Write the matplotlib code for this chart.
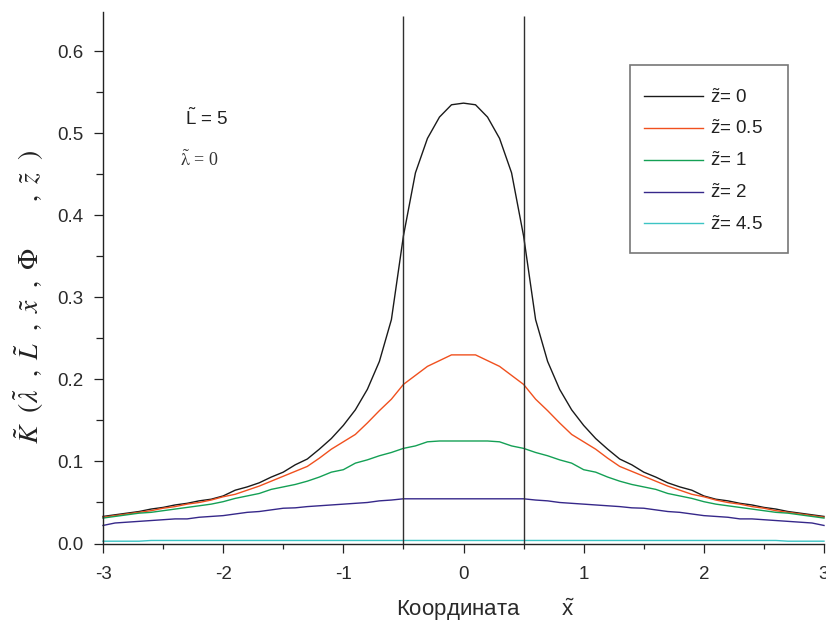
import matplotlib
matplotlib.use("Agg")
import matplotlib.pyplot as plt
from matplotlib.patches import Rectangle
from matplotlib.ticker import MultipleLocator

# ---------------- data ----------------
x_coord = [-3.0, -2.9, -2.8, -2.7, -2.6, -2.5, -2.4, -2.3, -2.2, -2.1,
           -2.0, -1.9, -1.8, -1.7, -1.6, -1.5, -1.4, -1.3, -1.2, -1.1,
           -1.0, -0.9, -0.8, -0.7, -0.6, -0.5, -0.4, -0.3, -0.2, -0.1,
           0.0,
           0.1, 0.2, 0.3, 0.4, 0.5, 0.6, 0.7, 0.8, 0.9, 1.0,
           1.1, 1.2, 1.3, 1.4, 1.5, 1.6, 1.7, 1.8, 1.9, 2.0,
           2.1, 2.2, 2.3, 2.4, 2.5, 2.6, 2.7, 2.8, 2.9, 3.0]

k_z0 = [0.033, 0.035, 0.037, 0.039, 0.042, 0.044, 0.047, 0.049, 0.052, 0.054,
        0.058, 0.065, 0.069, 0.074, 0.081, 0.087, 0.096, 0.103, 0.115, 0.128,
        0.144, 0.163, 0.188, 0.222, 0.273, 0.375, 0.452, 0.494, 0.520, 0.535,
        0.537,
        0.535, 0.520, 0.494, 0.452, 0.375, 0.273, 0.222, 0.188, 0.163, 0.144,
        0.128, 0.115, 0.103, 0.096, 0.087, 0.081, 0.074, 0.069, 0.065, 0.058,
        0.054, 0.052, 0.049, 0.047, 0.044, 0.042, 0.039, 0.037, 0.035, 0.033]

k_z05 = [0.032, 0.034, 0.036, 0.038, 0.040, 0.043, 0.045, 0.048, 0.050, 0.053,
         0.057, 0.060, 0.065, 0.070, 0.076, 0.082, 0.088, 0.094, 0.104, 0.115,
         0.124, 0.133, 0.147, 0.162, 0.176, 0.194, 0.205, 0.216, 0.223, 0.230,
         0.230,
         0.230, 0.223, 0.216, 0.205, 0.194, 0.176, 0.162, 0.147, 0.133, 0.124,
         0.115, 0.104, 0.094, 0.088, 0.082, 0.076, 0.070, 0.065, 0.060, 0.057,
         0.053, 0.050, 0.048, 0.045, 0.043, 0.040, 0.038, 0.036, 0.034, 0.032]

k_z1 = [0.031, 0.033, 0.035, 0.037, 0.038, 0.040, 0.042, 0.044, 0.046, 0.048,
        0.051, 0.055, 0.058, 0.061, 0.066, 0.069, 0.072, 0.076, 0.081, 0.087,
        0.090, 0.098, 0.102, 0.107, 0.111, 0.116, 0.119, 0.124, 0.125, 0.125,
        0.125,
        0.125, 0.125, 0.124, 0.119, 0.116, 0.111, 0.107, 0.102, 0.098, 0.090,
        0.087, 0.081, 0.076, 0.072, 0.069, 0.066, 0.061, 0.058, 0.055, 0.051,
        0.048, 0.046, 0.044, 0.042, 0.040, 0.038, 0.037, 0.035, 0.033, 0.031]

k_z2 = [0.022, 0.025, 0.026, 0.027, 0.028, 0.029, 0.030, 0.030, 0.032, 0.033,
        0.034, 0.036, 0.038, 0.039, 0.041, 0.043, 0.0435, 0.045, 0.046, 0.047,
        0.048, 0.049, 0.050, 0.052, 0.053, 0.0545, 0.0545, 0.0545, 0.0545, 0.0545,
        0.0545,
        0.0545, 0.0545, 0.0545, 0.0545, 0.0545, 0.053, 0.052, 0.050, 0.049, 0.048,
        0.047, 0.046, 0.045, 0.0435, 0.043, 0.041, 0.039, 0.038, 0.036, 0.034,
        0.033, 0.032, 0.030, 0.030, 0.029, 0.028, 0.027, 0.026, 0.025, 0.022]

k_z45 = [0.0028, 0.0028, 0.0028, 0.0028, 0.0037, 0.0037, 0.0037, 0.0037, 0.0037, 0.0037,
         0.0037, 0.0037, 0.0037, 0.0037, 0.0037, 0.0037, 0.0037, 0.0037, 0.0037, 0.0037,
         0.0037, 0.0037, 0.0037, 0.0037, 0.0037, 0.0037, 0.0037, 0.0037, 0.0037, 0.0037,
         0.0037,
         0.0037, 0.0037, 0.0037, 0.0037, 0.0037, 0.0037, 0.0037, 0.0037, 0.0037, 0.0037,
         0.0037, 0.0037, 0.0037, 0.0037, 0.0037, 0.0037, 0.0037, 0.0037, 0.0037, 0.0037,
         0.0037, 0.0037, 0.0037, 0.0037, 0.0037, 0.0037, 0.0028, 0.0028, 0.0028, 0.0028]

series_values = [k_z0, k_z05, k_z1, k_z2, k_z45]
series_labels = [r"$\tilde{\mathrm{z}}$= 0", r"$\tilde{\mathrm{z}}$= 0.5",
                 r"$\tilde{\mathrm{z}}$= 1", r"$\tilde{\mathrm{z}}$= 2",
                 r"$\tilde{\mathrm{z}}$= 4.5"]
series_colors = ["#1a1a1a", "#f0501e", "#14a055", "#36288a", "#3cc4c4"]

boundary_x = [-0.5, 0.5]

x_ticks = [-3, -2, -1, 0, 1, 2, 3]
x_tick_labels = ["-3", "-2", "-1", "0", "1", "2", "3"]
y_ticks = [0.0, 0.1, 0.2, 0.3, 0.4, 0.5, 0.6]
y_tick_labels = ["0.0", "0.1", "0.2", "0.3", "0.4", "0.5", "0.6"]

x_label = "Координата" + "       " + r"$\tilde{\mathrm{x}}$"
y_label = (r"$\tilde{K}\ \ (\tilde{\lambda}\ \ ,\ \tilde{L}\ \ ,\ \tilde{x}\ \ ,"
           r"\ \Phi\qquad\ ,\ \tilde{z}\ \ )$")
note_L = r"$\tilde{\mathrm{L}}$ = 5"
note_lambda = r"$\tilde{\mathrm{\lambda}}$ = 0"

# ---------------- figure ----------------
plt.rcParams['font.family'] = ['Liberation Sans', 'DejaVu Sans']
plt.rcParams['mathtext.fontset'] = 'custom'
plt.rcParams['mathtext.rm'] = 'Liberation Sans'
plt.rcParams['mathtext.it'] = 'Liberation Sans:italic'
plt.rcParams['mathtext.bf'] = 'Liberation Sans:bold'

W, H = 826, 624
fig = plt.figure(figsize=(W / 100, H / 100), dpi=100)
fig.patch.set_facecolor("white")

ax_left, ax_right, ax_bottom, ax_top = 103, 824, 543.5, 11.7
ax = fig.add_axes([ax_left / W, 1 - ax_bottom / H,
                   (ax_right - ax_left) / W, (ax_bottom - ax_top) / H])

for vals, lab, col in zip(series_values, series_labels, series_colors):
    ax.plot(x_coord, vals, color=col, lw=1.0, label=lab, clip_on=False)

ax.vlines(boundary_x, 0, 0.643, color="#303030", lw=1.0)

ax.set_xlim(-3, 3)
ax.set_ylim(0, 0.6485)

for s in ("top", "right"):
    ax.spines[s].set_visible(False)
for s in ("left", "bottom"):
    ax.spines[s].set_color("#222222")
    ax.spines[s].set_linewidth(1.0)

ax.set_xticks(x_ticks)
ax.set_xticklabels(x_tick_labels)
ax.set_yticks(y_ticks)
ax.set_yticklabels(y_tick_labels)
ax.xaxis.set_minor_locator(MultipleLocator(0.5))
ax.yaxis.set_minor_locator(MultipleLocator(0.05))

ax.tick_params(axis="both", which="major", direction="out", length=6.5,
               width=0.9, colors="#222222", labelsize=13.5, labelcolor="#2a2a2a")
ax.tick_params(axis="x", which="major", pad=9.5)
ax.tick_params(axis="y", which="major", pad=7.5)
ax.tick_params(axis="x", which="minor", direction="out", length=3.6,
               width=0.9, colors="#222222")
ax.tick_params(axis="y", which="minor", direction="out", length=4.8,
               width=0.9, colors="#222222")

ax.set_xlabel(x_label, fontsize=16, color="#2a2a2a")
ax.xaxis.label.set_va("center")
ax.xaxis.set_label_coords((485 - ax_left) / (ax_right - ax_left),
                          (ax_bottom - 610) / (ax_bottom - ax_top))

ax.set_ylabel(y_label, fontsize=20, color="#222222", math_fontfamily="stix")
ax.yaxis.label.set_va("center")
ax.yaxis.set_label_coords((29 - ax_left) / (ax_right - ax_left),
                          (ax_bottom - 297) / (ax_bottom - ax_top))

ax.text(-2.32, 0.519, note_L, fontsize=13.5, color="#222222", va="center", ha="left")
ax.text(-2.36, 0.468, note_lambda, fontsize=13, color="#333333", va="center", ha="left",
        family=["Liberation Serif", "DejaVu Serif"], math_fontfamily="stix")

# legend
leg = ax.legend(loc="upper left", bbox_to_anchor=(644 / W, 1 - 88 / H),
                bbox_transform=fig.transFigure, frameon=False, fontsize=13.5,
                borderpad=0, borderaxespad=0, handlelength=3.15,
                handletextpad=0.38, labelspacing=0.71)
for t in leg.get_texts():
    t.set_color("#222222")
fig.patches.append(Rectangle((630 / W, 1 - 253 / H), 158 / W, 188 / H,
                             transform=fig.transFigure, fill=False,
                             edgecolor="#777777", lw=1.2))

fig.savefig("out.png", dpi=100)
